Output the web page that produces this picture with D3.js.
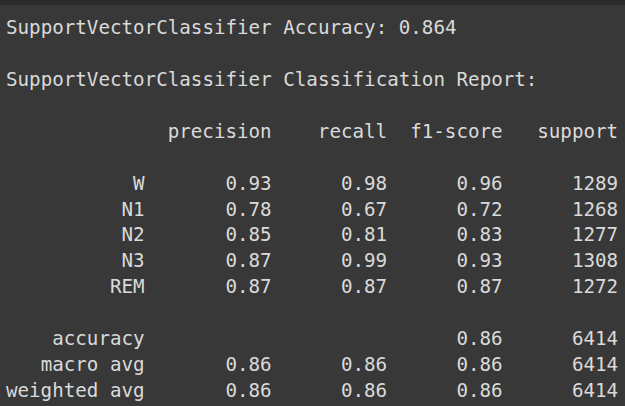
<!DOCTYPE html>
<html>
<head>
<meta charset="utf-8">
<script src="https://cdn.jsdelivr.net/npm/d3@7"></script>
<style>
  body { margin: 0; background: #383838; }
  svg { display: block; }
</style>
</head>
<body>
<div id="chart"></div>
<script>
// report data
const modelName = "SupportVectorClassifier";
const accuracy = 0.864;
const headers = ["precision", "recall", "f1-score", "support"];
const classes = ["W", "N1", "N2", "N3", "REM"];
const precision = [0.93, 0.78, 0.85, 0.87, 0.87];
const recall = [0.98, 0.67, 0.81, 0.99, 0.87];
const f1 = [0.96, 0.72, 0.83, 0.93, 0.87];
const support = [1289, 1268, 1277, 1308, 1272];
const avgLabels = ["macro avg", "weighted avg"];
const avgPrecision = [0.86, 0.86];
const avgRecall = [0.86, 0.86];
const avgF1 = [0.86, 0.86];
const avgSupport = [6414, 6414];
const accF1 = 0.86;
const accSupport = 6414;

const width = 625, height = 406;
const labelWidth = 12;               // chars, length of "weighted avg"
const colEnds = [23, 33, 43, 53];    // right edge of each column, in chars

/* 1: canvas */
const svg = d3.select("#chart").append("svg")
  .attr("width", width)
  .attr("height", height)
  .style("font-family", "'DejaVu Sans Mono', 'Liberation Mono', monospace")
  .style("font-size", "19.2px")
  .attr("fill", "#dadada");

svg.append("rect").attr("width", width).attr("height", height).attr("fill", "#383838");
svg.append("rect").attr("width", width).attr("height", 5).attr("fill", "#2b2b2b");

/* 2: scales, characters across and lines down */
const x = d3.scaleLinear().domain([0, 53]).range([6, 6 + 53 * 11.55]);
const y = d3.scaleLinear().domain([0, 14]).range([34, 397]);

/* 3: build lines of cells */
const fmt = d3.format(".2f");
const cells = [];
cells.push({line: 0, col: 0, anchor: "start", text: modelName + " Accuracy: " + d3.format(".3f")(accuracy)});
cells.push({line: 2, col: 0, anchor: "start", text: modelName + " Classification Report:"});
headers.forEach((h, i) => cells.push({line: 4, col: colEnds[i], anchor: "end", text: h}));

classes.forEach((c, r) => {
  const line = 6 + r;
  cells.push({line, col: labelWidth, anchor: "end", text: c});
  [fmt(precision[r]), fmt(recall[r]), fmt(f1[r]), String(support[r])]
    .forEach((t, i) => cells.push({line, col: colEnds[i], anchor: "end", text: t}));
});

cells.push({line: 12, col: labelWidth, anchor: "end", text: "accuracy"});
cells.push({line: 12, col: colEnds[2], anchor: "end", text: fmt(accF1)});
cells.push({line: 12, col: colEnds[3], anchor: "end", text: String(accSupport)});

avgLabels.forEach((a, r) => {
  const line = 13 + r;
  cells.push({line, col: labelWidth, anchor: "end", text: a});
  [fmt(avgPrecision[r]), fmt(avgRecall[r]), fmt(avgF1[r]), String(avgSupport[r])]
    .forEach((t, i) => cells.push({line, col: colEnds[i], anchor: "end", text: t}));
});

/* 4: draw */
svg.selectAll("text.cell")
  .data(cells)
  .enter().append("text")
  .attr("class", "cell")
  .attr("x", d => x(d.col))
  .attr("y", d => y(d.line))
  .attr("text-anchor", d => d.anchor)
  .attr("xml:space", "preserve")
  .text(d => d.text);
</script>
</body>
</html>
